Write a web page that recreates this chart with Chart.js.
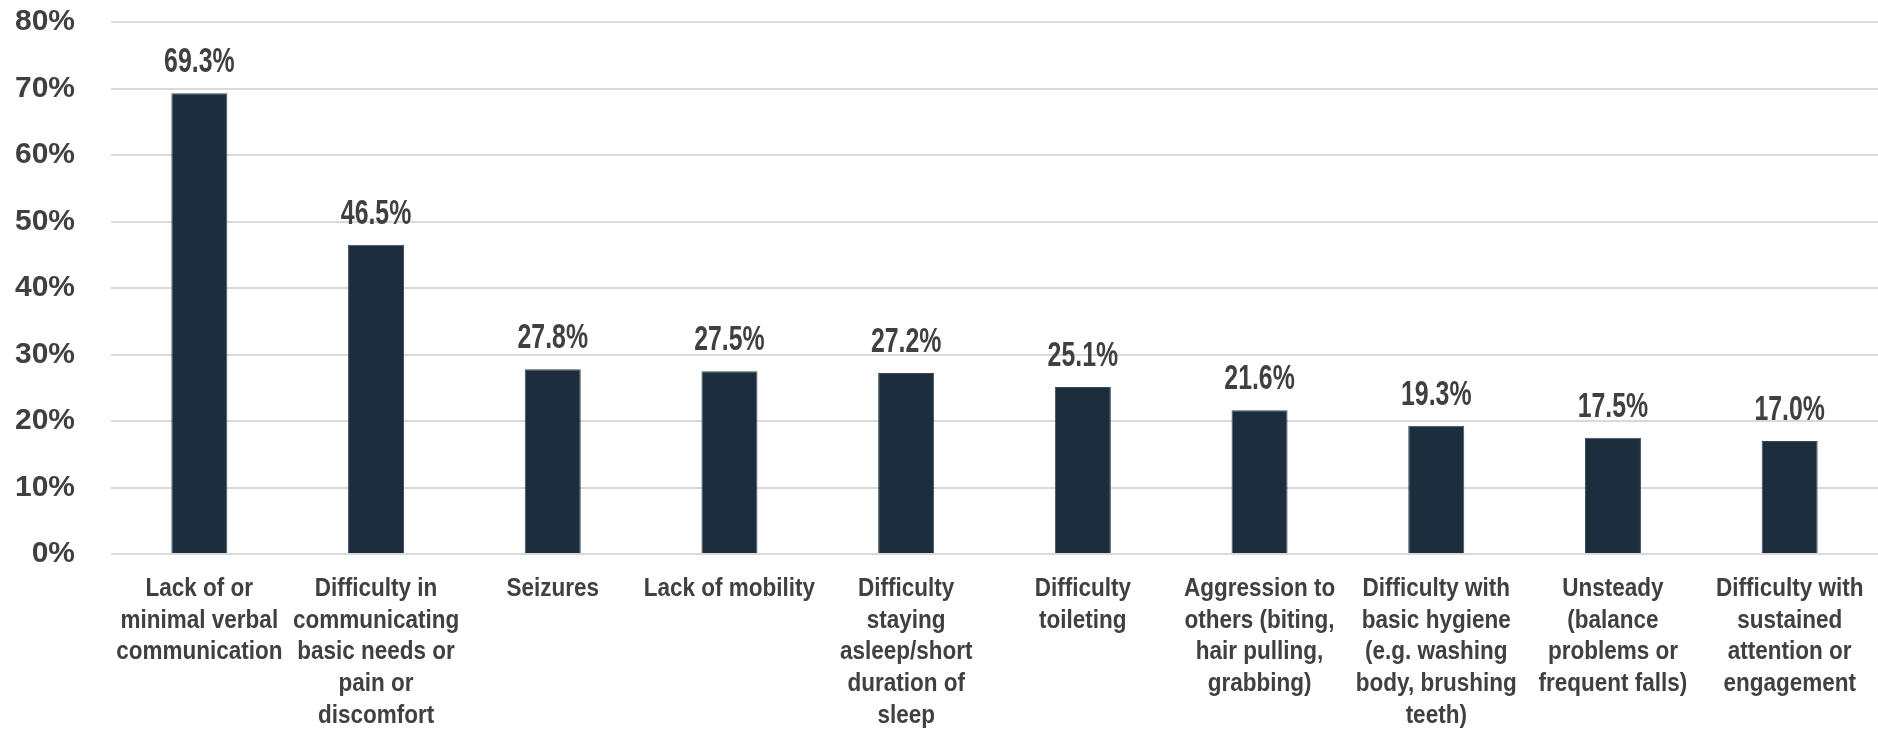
<!DOCTYPE html>
<html>
<head>
<meta charset="utf-8">
<script src="https://cdn.jsdelivr.net/npm/chart.js@4/dist/chart.umd.min.js"></script>
<style>
  html, body { margin: 0; padding: 0; background: #ffffff; }
  #wrap { width: 1878px; height: 731px; }
</style>
</head>
<body>
<div id="wrap"><canvas id="needsChart"></canvas></div>
<script>
const categories = [
  ["Lack of or", "minimal verbal", "communication"],
  ["Difficulty in", "communicating", "basic needs or", "pain or", "discomfort"],
  ["Seizures"],
  ["Lack of mobility"],
  ["Difficulty", "staying", "asleep/short", "duration of", "sleep"],
  ["Difficulty", "toileting"],
  ["Aggression to", "others (biting,", "hair pulling,", "grabbing)"],
  ["Difficulty with", "basic hygiene", "(e.g. washing", "body, brushing", "teeth)"],
  ["Unsteady", "(balance", "problems or", "frequent falls)"],
  ["Difficulty with", "sustained", "attention or", "engagement"]
];
const percentages = [69.3, 46.5, 27.8, 27.5, 27.2, 25.1, 21.6, 19.3, 17.5, 17.0];
const yTicks = [0, 10, 20, 30, 40, 50, 60, 70, 80];

const FONT = "'Liberation Sans', Arial, sans-serif";
const TEXT = "#404040";

// draw text squeezed horizontally (narrow face look)
function narrowText(ctx, text, x, y, squeeze) {
  ctx.save();
  ctx.translate(x, y);
  ctx.scale(squeeze, 1);
  ctx.fillText(text, 0, 0);
  ctx.restore();
}

// category labels under the axis and value labels above the bars
const narrowLabels = {
  id: "narrowLabels",
  afterDatasetsDraw(chart) {
    const ctx = chart.ctx;
    const meta = chart.getDatasetMeta(0);
    const xScale = chart.scales.x;
    ctx.save();
    ctx.fillStyle = TEXT;
    ctx.textAlign = "center";

    ctx.font = `bold 35px ${FONT}`;
    ctx.textBaseline = "alphabetic";
    meta.data.forEach((bar, i) => {
      narrowText(ctx, percentages[i].toFixed(1) + "%", bar.x, bar.y - 21, 0.71);
    });

    ctx.font = `bold 25px ${FONT}`;
    ctx.textBaseline = "middle";
    categories.forEach((lines, i) => {
      const x = xScale.getPixelForTick(i);
      lines.forEach((line, j) => {
        narrowText(ctx, line, x, xScale.top + 35 + j * 31.7, 0.9);
      });
    });
    ctx.restore();
  }
};

new Chart(document.getElementById("needsChart"), {
  type: "bar",
  data: {
    labels: categories,
    datasets: [
      {
        data: percentages,
        backgroundColor: "#1c2d3d",
        borderColor: "#3b4a59",
        borderWidth: 1,
        categoryPercentage: 1,
        barPercentage: 0.317,
      },
    ],
  },
  options: {
    responsive: true,
    maintainAspectRatio: false,
    animation: false,
    layout: { padding: { top: 22, left: 0, right: 0, bottom: 0 } },
    plugins: {
      legend: { display: false },
      tooltip: { enabled: false },
    },
    scales: {
      x: {
        grid: { display: false, drawTicks: false },
        border: { display: false },
        ticks: { display: false },
        afterFit(scale) { scale.height = 177; },
      },
      y: {
        min: 0,
        max: 80,
        afterBuildTicks(scale) { scale.ticks = yTicks.map((v) => ({ value: v })); },
        // invisible tick marks keep the labels 36px off the plot
        grid: { color: "#d9d9d9", lineWidth: 2, drawTicks: true, tickLength: 36, tickColor: "rgba(0,0,0,0)" },
        border: { display: false },
        ticks: {
          color: TEXT,
          padding: 0,
          font: { family: FONT, size: 30, weight: "bold" },
          callback: (v) => v + "%",
        },
        afterFit(scale) { scale.width = 111; },
      },
    },
  },
  plugins: [narrowLabels],
});
</script>
</body>
</html>
